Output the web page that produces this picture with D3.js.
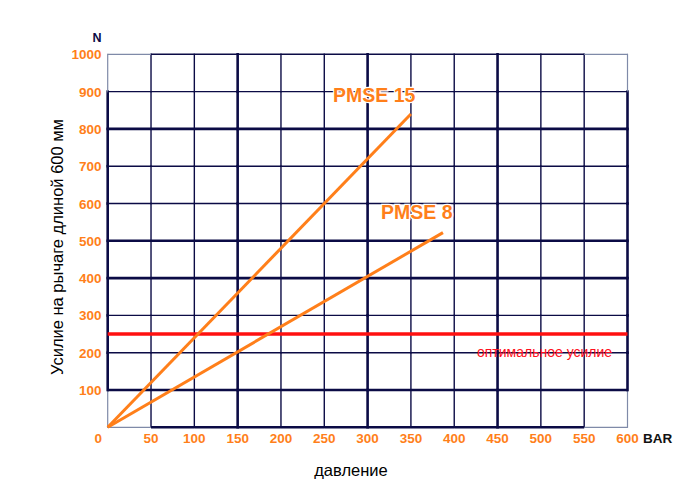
<!DOCTYPE html>
<html>
<head>
<meta charset="utf-8">
<script src="https://cdn.jsdelivr.net/npm/d3@7"></script>
<style>
  body { margin: 0; background: #fff; }
  svg { display: block; font-family: Arial, "Liberation Sans", sans-serif; }
</style>
</head>
<body>
<svg id="chart" width="688" height="498"></svg>
<script>
// data
var xTicks = [0, 50, 100, 150, 200, 250, 300, 350, 400, 450, 500, 550, 600];
var yTicks = [0, 100, 200, 300, 400, 500, 600, 700, 800, 900, 1000];
var thickX = [0, 150, 300, 450, 600];
var thickY = [0, 100, 400, 500, 800];
var pmse15 = [[0, 0], [350, 840]];
var pmse8 = [[0, 0], [387, 522]];
var optimum = [[0, 250], [600, 250]];
var seriesNames = ['PMSE 15', 'PMSE 8'];

var svg = d3.select('#chart');
var x = d3.scaleLinear().domain([0, 600]).range([107.7, 627.5]);
var y = d3.scaleLinear().domain([0, 1000]).range([427.3, 54.3]);

var navy = '#0b0b45';
var orange = '#ff7f1a';

// grid: split every line into cell-length pieces so the corner cells can stay thin
var g = svg.append('g');
var step = 50, ystep = 100;
function isCornerCell(cx, cy) {
  // cx, cy = lower-left corner of the cell in data units
  return (cx === 0 || cx === 550) && (cy === 0 || cy === 900);
}
xTicks.forEach(function (v) {
  for (var cy = 0; cy < 1000; cy += ystep) {
    var edge = (v === 0 || v === 600);
    var corner = edge && isCornerCell(v === 0 ? 0 : 550, cy);
    g.append('line')
      .attr('x1', x(v)).attr('x2', x(v))
      .attr('y1', y(cy)).attr('y2', y(cy + ystep))
      .attr('stroke', corner ? '#7f8aa8' : navy)
      .attr('stroke-width', corner ? 1.2 : (thickX.indexOf(v) >= 0 ? 2.6 : 1.4))
      .attr('stroke-linecap', 'square');
  }
});
yTicks.forEach(function (v) {
  for (var cx = 0; cx < 600; cx += step) {
    var edge = (v === 0 || v === 1000);
    var corner = edge && isCornerCell(cx, v === 0 ? 0 : 900);
    g.append('line')
      .attr('x1', x(cx)).attr('x2', x(cx + step))
      .attr('y1', y(v)).attr('y2', y(v))
      .attr('stroke', corner ? '#7f8aa8' : navy)
      .attr('stroke-width', corner ? 1.2 : (thickY.indexOf(v) >= 0 ? 2.6 : 1.4));
  }
});

// tick labels
svg.append('g').selectAll('text')
  .data(yTicks)
  .enter().append('text')
  .attr('x', 101.5)
  .attr('y', function (d) { return y(d) + 5; })
  .attr('text-anchor', 'end')
  .attr('font-size', 13.5)
  .attr('font-weight', 'bold')
  .attr('fill', orange)
  .text(function (d) { return d === 0 ? '' : d; });

svg.append('g').selectAll('text')
  .data(xTicks)
  .enter().append('text')
  .attr('x', function (d) { return d === 0 ? x(d) - 9.5 : x(d); })
  .attr('y', 443)
  .attr('text-anchor', 'middle')
  .attr('font-size', 13.5)
  .attr('font-weight', 'bold')
  .attr('fill', orange)
  .text(function (d) { return d; });

svg.append('text').attr('x', 97).attr('y', 42)
  .attr('text-anchor', 'middle').attr('font-size', 12.5).attr('font-weight', 'bold')
  .attr('fill', navy).text('N');
svg.append('text').attr('x', 643).attr('y', 443)
  .attr('font-size', 13.5).attr('font-weight', 'bold')
  .attr('fill', '#111').text('BAR');

// axis titles
svg.append('text').attr('x', 351).attr('y', 476)
  .attr('text-anchor', 'middle').attr('font-size', 16.5)
  .attr('fill', '#000').text('давление');
svg.append('text')
  .attr('transform', 'translate(63,247) rotate(-90)')
  .attr('text-anchor', 'middle').attr('font-size', 16.5)
  .attr('fill', '#000').text('Усилие на рычаге длиной 600 мм');

// lines
var line = d3.line()
  .x(function (d) { return x(d[0]); })
  .y(function (d) { return y(d[1]); });

svg.append('path').datum(optimum)
  .attr('d', line).attr('fill', 'none')
  .attr('stroke', '#ff1010').attr('stroke-width', 3.5);

[pmse15, pmse8].forEach(function (s) {
  svg.append('path').datum(s)
    .attr('d', line).attr('fill', 'none')
    .attr('stroke', orange).attr('stroke-width', 3);
});

// labels
function label(txt, lx, ly, size, weight, color, halo) {
  var t = svg.append('text').attr('x', lx).attr('y', ly)
    .attr('font-size', size).attr('font-weight', weight)
    .attr('fill', color)
    .text(txt);
  if (halo) {
    t.attr('stroke', '#fff').attr('stroke-width', 2.5).attr('paint-order', 'stroke');
  }
}
label(seriesNames[0], 333, 102, 19.5, 'bold', orange, true);
label(seriesNames[1], 381, 219, 19.5, 'bold', orange, true);
label('оптимальное усилие', 477, 357, 14, 'normal', '#ff1020', false);
</script>
</body>
</html>
